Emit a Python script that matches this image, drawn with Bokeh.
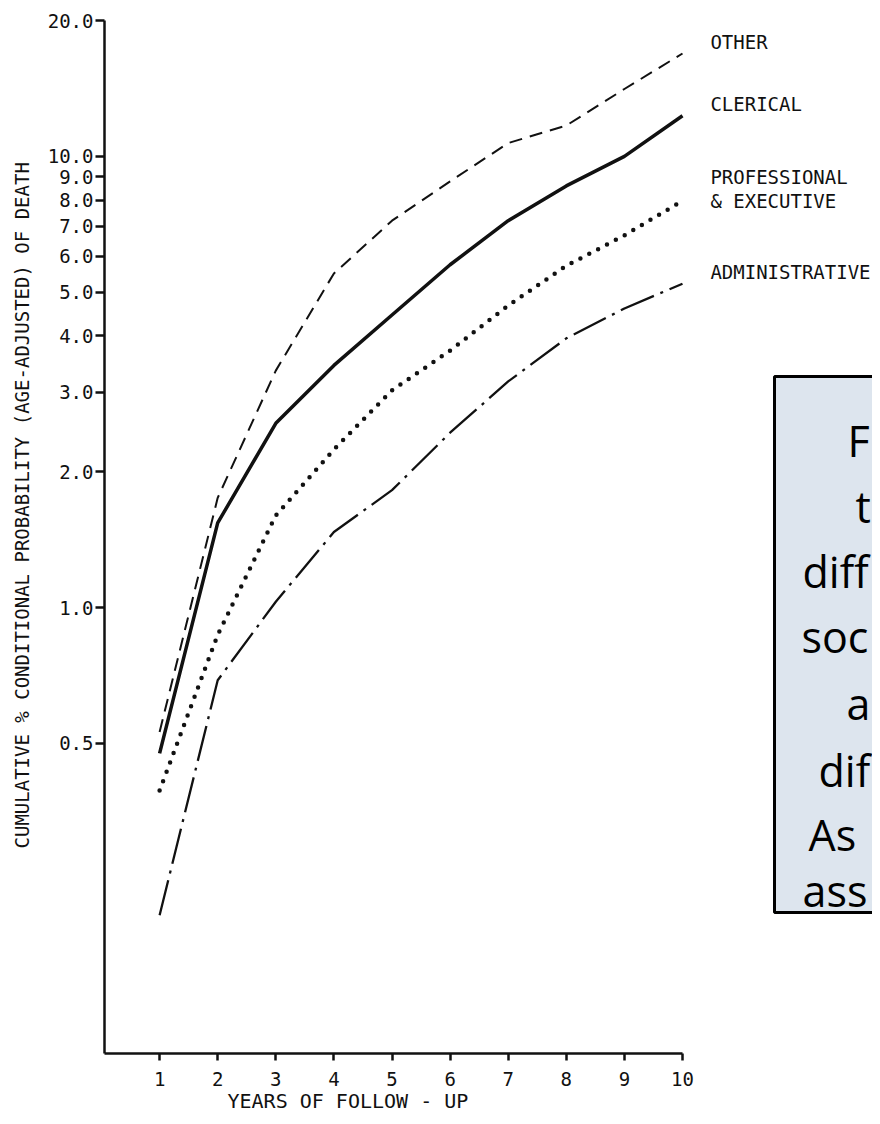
import math
from bokeh.plotting import figure
from bokeh.models import Range1d, FixedTicker, Label, BoxAnnotation, ColumnDataSource, Title
from bokeh.core.properties import value
from bokeh.embed import file_html
from bokeh.resources import INLINE

# ---- data ----
years = [1, 2, 3, 4, 5, 6, 7, 8, 9, 10]
other = [0.53, 1.75, 3.35, 5.5, 7.2, 8.8, 10.7, 11.7, 14.1, 16.9]
clerical = [0.475, 1.54, 2.56, 3.44, 4.45, 5.75, 7.2, 8.6, 10.0, 12.3]
professional = [0.393, 0.87, 1.6, 2.24, 3.03, 3.71, 4.67, 5.72, 6.68, 7.97]
administrative = [0.208, 0.69, 1.03, 1.47, 1.82, 2.44, 3.17, 3.95, 4.6, 5.22]
series_names = ["OTHER", "CLERICAL", "PROFESSIONAL\n& EXECUTIVE", "ADMINISTRATIVE"]

y_ticks = [0.5, 1, 2, 3, 4, 5, 6, 7, 8, 9, 10, 20]
y_tick_labels = ["0.5", "1.0", "2.0", "3.0", "4.0", "5.0", "6.0", "7.0", "8.0", "9.0", "10.0", "20.0"]
x_ticks = years

y_title = "CUMULATIVE % CONDITIONAL PROBABILITY (AGE-ADJUSTED) OF DEATH"
x_title = "YEARS OF FOLLOW - UP"
box_lines = ["F", "t", "diff", "soc", "a", "dif", "As", "ass"]

# ---- layout (canvas pixels) ----
W, H = 872, 1116
PX_PER_YEAR = 58.1
X0_PX = 101              # canvas x of year 0
FRAME_LEFT = 104
FRAME_TOP = 20
FRAME_H = 1033
FRAME_BOTTOM = FRAME_TOP + FRAME_H
Y_MIN, Y_MAX = 0.1027, 20.0
PX_PER_DEC = FRAME_H / math.log10(Y_MAX / Y_MIN)

def xd(cx):
    return (cx - X0_PX) / PX_PER_YEAR

def yd(cy):
    return Y_MAX / 10 ** ((cy - FRAME_TOP) / PX_PER_DEC)

p = figure(width=W, height=H, output_backend="svg", toolbar_location=None,
           x_range=Range1d(xd(FRAME_LEFT), xd(W)), y_range=Range1d(Y_MIN, Y_MAX),
           y_axis_type="log",
           min_border_left=FRAME_LEFT, min_border_right=0,
           min_border_top=FRAME_TOP, min_border_bottom=H - FRAME_BOTTOM)
p.outline_line_color = None
p.xgrid.visible = False
p.ygrid.visible = False
p.background_fill_color = "white"
p.border_fill_color = "white"

mono = "DejaVu Sans Mono"
ink = "#111111"

# axes
p.yaxis.ticker = FixedTicker(ticks=y_ticks)
p.yaxis.major_label_overrides = {t: l for t, l in zip(y_ticks, y_tick_labels)}
p.yaxis.major_tick_out = 9
p.yaxis.major_tick_in = 0
p.yaxis.minor_tick_line_color = None
p.yaxis.major_label_standoff = 2
p.yaxis.major_label_text_font = mono
p.yaxis.major_label_text_font_size = "19px"

p.xaxis.ticker = FixedTicker(ticks=x_ticks)
p.xaxis.bounds = (0, 10)
p.xaxis.major_tick_out = 7
p.xaxis.major_tick_in = 0
p.xaxis.minor_tick_line_color = None
p.xaxis.major_label_standoff = 11
p.xaxis.major_label_text_font = mono
p.xaxis.major_label_text_font_size = "19px"

for ax in (p.xaxis, p.yaxis):
    ax.axis_line_color = ink
    ax.axis_line_width = 2.5
    ax.major_tick_line_color = ink
    ax.major_tick_line_width = 2.5
    ax.major_label_text_color = ink

# axis titles as side-panel titles (placed off-centre like the reference)
p.add_layout(Title(text=y_title, align="left", offset=FRAME_BOTTOM - 848, vertical_align="top",
                   standoff=20, text_font=mono, text_font_size="19px",
                   text_font_style="normal", text_color=ink), "left")
p.add_layout(Title(text=x_title, align="left", offset=227 - FRAME_LEFT, vertical_align="bottom",
                   standoff=-4, text_font=mono, text_font_size="20px",
                   text_font_style="normal", text_color=ink), "below")

# series
p.line(years, other, line_color=ink, line_width=2, line_dash="13 8")
p.line(years, clerical, line_color=ink, line_width=3.5)
p.line(years, professional, line_color=ink, line_width=4.5, line_dash="0 10", line_cap="round")
p.line(years, administrative, line_color=ink, line_width=2.3, line_dash="36 7 3 7")

# series labels at the right end of each curve
ends = [other[-1], clerical[-1], professional[-1], administrative[-1]]
lab_src = ColumnDataSource(dict(x=[years[-1] + 0.48] * 4, y=[e * 1.06 for e in ends], t=series_names))
p.text(x="x", y="y", text="t", source=lab_src, text_font=value(mono), text_font_size="19px",
       text_color=ink, text_align="left", text_baseline="middle", text_line_height=1.1)

# text box on the right (cut by the page edge)
p.add_layout(BoxAnnotation(left=xd(774), right=xd(960), top=yd(376), bottom=yd(912),
                           fill_color="#dde5ee", fill_alpha=1.0,
                           line_color="#000000", line_alpha=1.0, line_width=3))
line_x = [847, 855, 802, 801, 846, 818, 808, 802]
line_y = [440, 506, 571, 636, 703, 770, 834, 890]
for t, lx, ly in zip(box_lines, line_x, line_y):
    p.add_layout(Label(x=xd(lx), y=yd(ly), text=t, text_align="left", text_baseline="alphabetic",
                       text_font="Open Sans", text_font_size="43px", text_color="#000000"))

open("out.html", "w").write(file_html(p, INLINE))
